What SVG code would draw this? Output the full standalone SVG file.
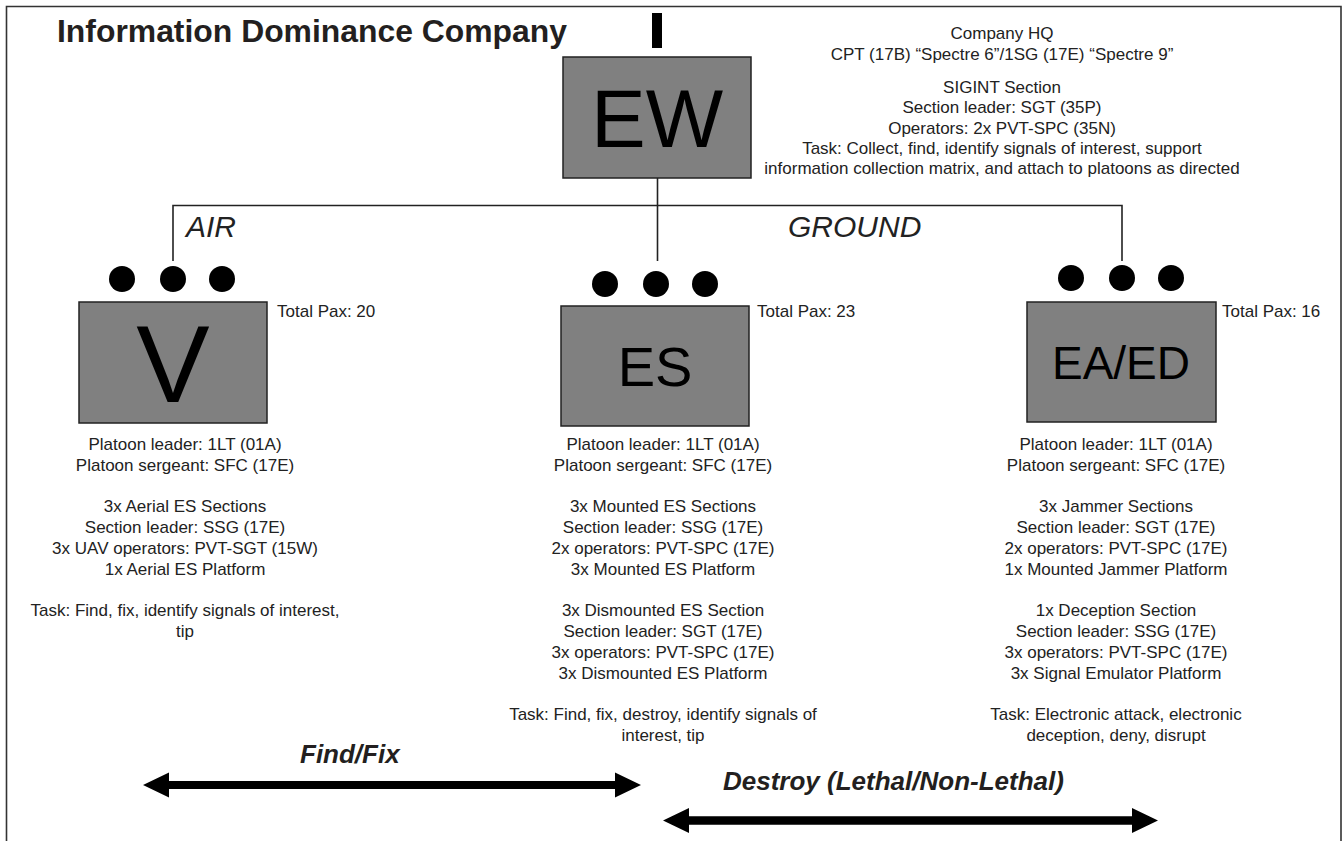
<svg xmlns="http://www.w3.org/2000/svg" width="1344" height="841" viewBox="0 0 1344 841">
<style>
.t{font-family:"Liberation Sans",Arial,sans-serif;font-size:17px;fill:#222;text-anchor:middle}
.tl{font-family:"Liberation Sans",Arial,sans-serif;font-size:17px;fill:#222}
.box{fill:#808080;stroke:#222;stroke-width:1.5}
.big{font-family:"Liberation Sans",Arial,sans-serif;fill:#000;text-anchor:middle}
.dot{fill:#000}
.con{stroke:#222;stroke-width:1.6;fill:none}
.lab{font-family:"Liberation Sans",Arial,sans-serif;font-style:italic;font-size:30px;fill:#222}
.bi{font-family:"Liberation Sans",Arial,sans-serif;font-style:italic;font-weight:bold;font-size:26px;fill:#231f20}
</style>
<rect x="0" y="0" width="1344" height="841" fill="#fff"/>
<path d="M6.5 841 V6.5 H1341 V841" fill="none" stroke="#333" stroke-width="1.6"/>
<text x="57" y="42" font-family="Liberation Sans,Arial,sans-serif" font-weight="bold" font-size="31" fill="#231f20" textLength="510" lengthAdjust="spacingAndGlyphs">Information Dominance Company</text>

<g id="connectors">
<path class="con" d="M657.5 178 V261"/>
<path class="con" d="M173 261 V205.5 H1122 V261"/>
</g>

<g id="hq">
<rect x="652" y="13" width="10" height="35" fill="#000"/>
<rect class="box" x="563" y="57" width="188" height="121"/>
<text class="big" x="657" y="147" font-size="82">EW</text>
<text class="t" x="1002" y="39">Company HQ</text>
<text class="t" x="1002" y="59.5">CPT (17B) “Spectre 6”/1SG (17E) “Spectre 9”</text>
<text class="t" x="1002" y="93">SIGINT Section</text>
<text class="t" x="1002" y="113">Section leader: SGT (35P)</text>
<text class="t" x="1002" y="133.5">Operators: 2x PVT-SPC (35N)</text>
<text class="t" x="1002" y="154">Task: Collect, find, identify signals of interest, support</text>
<text class="t" x="1002" y="174">information collection matrix, and attach to platoons as directed</text>
</g>

<text class="lab" x="186" y="237">AIR</text>
<text class="lab" x="788" y="237">GROUND</text>

<g id="v-platoon">
<circle class="dot" cx="122" cy="279" r="13"/>
<circle class="dot" cx="173" cy="279" r="13"/>
<circle class="dot" cx="222" cy="279" r="13"/>
<rect class="box" x="79" y="302" width="188" height="121"/>
<text class="big" x="173" y="402" font-size="110">V</text>
<text class="tl" x="277" y="317">Total Pax: 20</text>
<text class="t" x="185" y="450">Platoon leader: 1LT (01A)</text>
<text class="t" x="185" y="470.8">Platoon sergeant: SFC (17E)</text>
<text class="t" x="185" y="512.4">3x Aerial ES Sections</text>
<text class="t" x="185" y="533.2">Section leader: SSG (17E)</text>
<text class="t" x="185" y="554">3x UAV operators: PVT-SGT (15W)</text>
<text class="t" x="185" y="574.8">1x Aerial ES Platform</text>
<text class="t" x="185" y="616.4">Task: Find, fix, identify signals of interest,</text>
<text class="t" x="185" y="637.2">tip</text>
</g>

<g id="es-platoon">
<circle class="dot" cx="605" cy="284" r="13"/>
<circle class="dot" cx="656" cy="284" r="13"/>
<circle class="dot" cx="705" cy="284" r="13"/>
<rect class="box" x="561" y="306" width="188" height="120"/>
<text class="big" x="655" y="386" font-size="56">ES</text>
<text class="tl" x="757" y="317">Total Pax: 23</text>
<text class="t" x="663" y="450">Platoon leader: 1LT (01A)</text>
<text class="t" x="663" y="470.8">Platoon sergeant: SFC (17E)</text>
<text class="t" x="663" y="512.4">3x Mounted ES Sections</text>
<text class="t" x="663" y="533.2">Section leader: SSG (17E)</text>
<text class="t" x="663" y="554">2x operators: PVT-SPC (17E)</text>
<text class="t" x="663" y="574.8">3x Mounted ES Platform</text>
<text class="t" x="663" y="616.4">3x Dismounted ES Section</text>
<text class="t" x="663" y="637.2">Section leader: SGT (17E)</text>
<text class="t" x="663" y="658">3x operators: PVT-SPC (17E)</text>
<text class="t" x="663" y="678.8">3x Dismounted ES Platform</text>
<text class="t" x="663" y="720.4">Task: Find, fix, destroy, identify signals of</text>
<text class="t" x="663" y="741.2">interest, tip</text>
</g>

<g id="ea-platoon">
<circle class="dot" cx="1071" cy="278" r="13"/>
<circle class="dot" cx="1122" cy="278" r="13"/>
<circle class="dot" cx="1171" cy="278" r="13"/>
<rect class="box" x="1027" y="302" width="189" height="120"/>
<text class="big" x="1121" y="379" font-size="46">EA/ED</text>
<text class="tl" x="1222" y="317">Total Pax: 16</text>
<text class="t" x="1116" y="450">Platoon leader: 1LT (01A)</text>
<text class="t" x="1116" y="470.8">Platoon sergeant: SFC (17E)</text>
<text class="t" x="1116" y="512.4">3x Jammer Sections</text>
<text class="t" x="1116" y="533.2">Section leader: SGT (17E)</text>
<text class="t" x="1116" y="554">2x operators: PVT-SPC (17E)</text>
<text class="t" x="1116" y="574.8">1x Mounted Jammer Platform</text>
<text class="t" x="1116" y="616.4">1x Deception Section</text>
<text class="t" x="1116" y="637.2">Section leader: SSG (17E)</text>
<text class="t" x="1116" y="658">3x operators: PVT-SPC (17E)</text>
<text class="t" x="1116" y="678.8">3x Signal Emulator Platform</text>
<text class="t" x="1116" y="720.4">Task: Electronic attack, electronic</text>
<text class="t" x="1116" y="741.2">deception, deny, disrupt</text>
</g>

<g id="find-fix">
<text class="bi" x="300" y="763">Find/Fix</text>
<path d="M143 785 L169 772.5 V781 H615 V772.5 L641 785 L615 797.5 V789 H169 V797.5 Z" fill="#000"/>
</g>
<g id="destroy">
<text class="bi" x="723" y="790">Destroy (Lethal/Non-Lethal)</text>
<path d="M663 820.5 L689 808 V816.3 H1132 V808 L1158 820.5 L1132 833 V824.7 H689 V833 Z" fill="#000"/>
</g>
</svg>
